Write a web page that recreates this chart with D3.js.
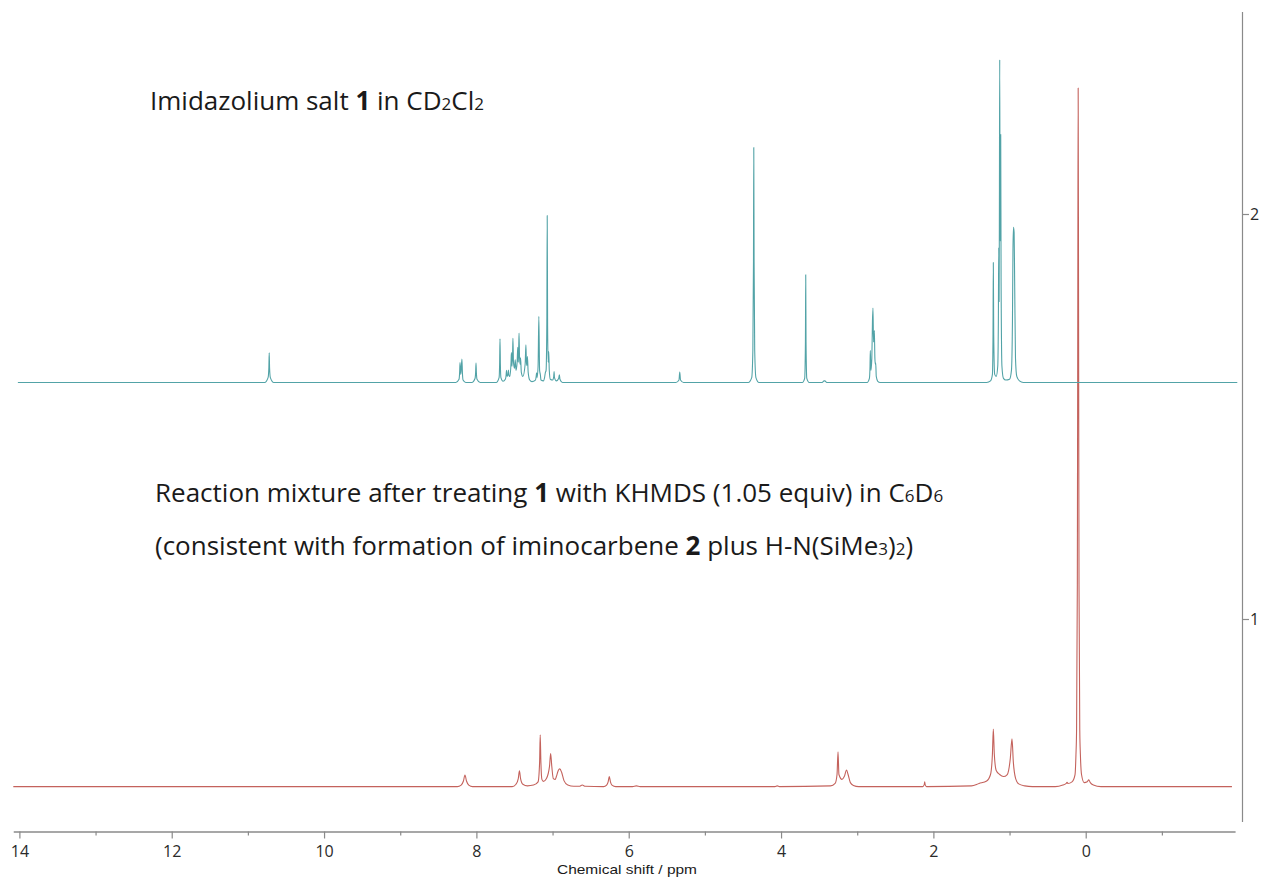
<!DOCTYPE html>
<html>
<head>
<meta charset="utf-8">
<script src="https://cdn.jsdelivr.net/npm/d3@7"></script>
<style>
  html, body { margin: 0; padding: 0; background: #ffffff; }
  svg { display: block; }
  .lbl { font-family: "Open Sans", sans-serif; fill: #1a1a1a; }
</style>
</head>
<body>
<svg id="chart" width="1262" height="877"></svg>
<script>
// ---------- DATA ----------
const xTicksMajor = [14, 12, 10, 8, 6, 4, 2, 0];
const xTicksMinor = [13, 11, 9, 7, 5, 3, 1, -1];
const yTicks = [1, 2];
const xTitle = "Chemical shift / ppm";

// vertical offsets of the two stacked spectra (in axis units)
const tealOffset = 1.584;
const redOffset = 0.586;

// Imidazolium salt 1 in CD2Cl2 : [ppm, intensity]
const tealSpectrum = [
  [14.02, 0],
  [10.78, 0], [10.735, 0.012], [10.725, 0.035], [10.72, 0.073], [10.715, 0.035], [10.705, 0.012], [10.66, 0],
  [8.27, 0], [8.228, 0.008], [8.22, 0.025], [8.215, 0.049], [8.205, 0.02], [8.2, 0.03], [8.19, 0.058], [8.183, 0.022], [8.175, 0.006], [8.14, 0],
  [8.06, 0], [8.018, 0.01], [8.01, 0.025], [8.005, 0.048], [8.0, 0.024], [7.992, 0.008], [7.95, 0],
  [7.74, 0], [7.702, 0.012], [7.695, 0.045], [7.69, 0.108], [7.685, 0.045], [7.678, 0.012],
  [7.65, 0.003], [7.62, 0.008], [7.61, 0.018], [7.605, 0.03], [7.597, 0.015], [7.585, 0.02], [7.58, 0.031], [7.573, 0.018],
  [7.56, 0.015], [7.545, 0.05], [7.54, 0.074], [7.533, 0.04], [7.525, 0.07], [7.52, 0.109], [7.513, 0.05], [7.5, 0.035],
  [7.49, 0.056], [7.48, 0.03], [7.465, 0.05], [7.457, 0.087], [7.45, 0.05], [7.445, 0.08], [7.44, 0.122], [7.433, 0.06],
  [7.425, 0.045], [7.42, 0.061], [7.41, 0.025], [7.39, 0.015], [7.36, 0.045], [7.35, 0.093], [7.343, 0.05], [7.337, 0.042],
  [7.33, 0.064], [7.32, 0.025], [7.3, 0.006], [7.27, 0.002],
  [7.225, 0.006], [7.215, 0.015], [7.21, 0.024], [7.203, 0.012], [7.19, 0.04], [7.18, 0.163], [7.17, 0.03], [7.16, 0.019], [7.152, 0.006], [7.12, 0.004],
  [7.105, 0.012], [7.095, 0.024], [7.085, 0.03], [7.075, 0.15], [7.07, 0.412], [7.065, 0.14], [7.057, 0.05], [7.05, 0.0765], [7.043, 0.03], [7.03, 0.008], [7.0, 0.006],
  [6.985, 0.014], [6.98, 0.027], [6.975, 0.012], [6.95, 0.004], [6.92, 0.01], [6.91, 0.019], [6.903, 0.008], [6.87, 0],
  [5.38, 0], [5.34, 0.006], [5.33, 0.026], [5.32, 0.006], [5.28, 0],
  [4.43, 0], [4.385, 0.012], [4.37, 0.08], [4.362, 0.3], [4.358, 0.58], [4.354, 0.3], [4.346, 0.08], [4.33, 0.012], [4.29, 0],
  [3.72, 0], [3.69, 0.01], [3.68, 0.1], [3.676, 0.266], [3.672, 0.1], [3.662, 0.01], [3.63, 0],
  [3.46, 0], [3.435, 0.004], [3.425, 0.004], [3.40, 0],
  [2.87, 0], [2.84, 0.01], [2.832, 0.04], [2.828, 0.079], [2.82, 0.03], [2.808, 0.06], [2.8, 0.15], [2.793, 0.184], [2.786, 0.1],
  [2.78, 0.11], [2.775, 0.128], [2.768, 0.06], [2.762, 0.045], [2.757, 0.048], [2.75, 0.015], [2.73, 0.003], [2.70, 0],
  [1.30, 0], [1.25, 0.004], [1.225, 0.02], [1.217, 0.12], [1.213, 0.296], [1.208, 0.12], [1.195, 0.02], [1.175, 0.015],
  [1.155, 0.04], [1.147, 0.15], [1.142, 0.333], [1.137, 0.2], [1.133, 0.45], [1.129, 0.797], [1.124, 0.35], [1.12, 0.45],
  [1.116, 0.612], [1.111, 0.25], [1.1, 0.04], [1.08, 0.01], [1.05, 0.006], [1.0, 0.008],
  [0.975, 0.03], [0.962, 0.15], [0.955, 0.33], [0.948, 0.383], [0.94, 0.37], [0.933, 0.25], [0.922, 0.06], [0.905, 0.015], [0.87, 0.004], [0.82, 0],
  [-1.99, 0]
];

// Reaction mixture in C6D6 : [ppm, intensity]
const redSpectrum = [
  [14.08, 0],
  [8.25, 0], [8.2, 0.004], [8.17, 0.014], [8.15, 0.029], [8.13, 0.014], [8.1, 0.004], [8.05, 0],
  [7.53, 0], [7.48, 0.006], [7.45, 0.02], [7.435, 0.039], [7.42, 0.02], [7.39, 0.006], [7.33, 0.002],
  [7.25, 0.004], [7.19, 0.012], [7.17, 0.06], [7.162, 0.128], [7.153, 0.06], [7.14, 0.018], [7.12, 0.013],
  [7.08, 0.02], [7.04, 0.05], [7.025, 0.082], [7.01, 0.05], [6.99, 0.02], [6.965, 0.018],
  [6.95, 0.025], [6.925, 0.04], [6.905, 0.044], [6.88, 0.035], [6.85, 0.015], [6.8, 0.004], [6.72, 0.001],
  [6.65, 0.001], [6.61, 0.004], [6.57, 0.001],
  [6.33, 0], [6.29, 0.004], [6.27, 0.012], [6.255, 0.025], [6.24, 0.012], [6.22, 0.004], [6.17, 0],
  [5.95, 0], [5.9, 0.002], [5.85, 0],
  [4.08, 0], [4.05, 0.002], [4.02, 0],
  [3.35, 0.002], [3.29, 0.008], [3.265, 0.03], [3.252, 0.086], [3.24, 0.03], [3.2, 0.018], [3.17, 0.025], [3.14, 0.041],
  [3.12, 0.03], [3.09, 0.01], [3.05, 0.003], [2.98, 0],
  [2.14, 0], [2.12, 0.005], [2.114, 0.012], [2.108, 0.005], [2.09, 0],
  [1.5, 0.002], [1.4, 0.008], [1.3, 0.014], [1.25, 0.03], [1.225, 0.08], [1.213, 0.142], [1.2, 0.08], [1.175, 0.04],
  [1.13, 0.03], [1.08, 0.025], [1.03, 0.03], [0.99, 0.07], [0.968, 0.118], [0.95, 0.06], [0.92, 0.02], [0.88, 0.007], [0.8, 0.002], [0.7, 0],
  [0.4, 0], [0.3, 0.004], [0.255, 0.008], [0.245, 0.011], [0.235, 0.008], [0.18, 0.012], [0.14, 0.03], [0.128, 0.08],
  [0.12, 0.14], [0.11, 0.5], [0.104, 1.2], [0.099, 1.725], [0.094, 1.2], [0.088, 0.5], [0.078, 0.14], [0.07, 0.08],
  [0.055, 0.03], [0.02, 0.01], [-0.02, 0.012], [-0.04, 0.017], [-0.06, 0.01], [-0.1, 0.004], [-0.2, 0],
  [-1.92, 0]
];

// ---------- CHART ----------
const svg = d3.select("#chart");

const x = d3.scaleLinear().domain([14.08, -1.96]).range([13.3, 1235]);
const y = d3.scaleLinear().domain([0.5, 2.5]).range([821.5, 11.5]);

const axisColor = "#8a8a8a";
const tickTextColor = "#2a2a2a";

// bottom axis (minor then major)
const gMinor = svg.append("g").attr("transform", "translate(0,831.5)")
  .call(d3.axisBottom(x).tickValues(xTicksMinor).tickSize(4).tickSizeOuter(0).tickFormat(""));
const gMajor = svg.append("g").attr("transform", "translate(0,831.5)")
  .call(d3.axisBottom(x).tickValues(xTicksMajor).tickSize(7).tickSizeOuter(0).tickPadding(7).tickFormat(d3.format("d")));
[gMinor, gMajor].forEach(g => {
  g.select(".domain").attr("stroke", axisColor).attr("stroke-width", 1.2);
  g.selectAll(".tick line").attr("stroke", axisColor).attr("stroke-width", 1.2);
  g.selectAll(".tick text").attr("fill", tickTextColor)
    .style("font-family", "'Open Sans', sans-serif").style("font-size", "16px");
});

// right axis
const gRight = svg.append("g").attr("transform", "translate(1242,0)")
  .call(d3.axisRight(y).tickValues(yTicks).tickSize(7).tickSizeOuter(0).tickPadding(1).tickFormat(d3.format("d")));
gRight.select(".domain").attr("stroke", axisColor).attr("stroke-width", 1.2);
gRight.selectAll(".tick line").attr("stroke", axisColor).attr("stroke-width", 1.2);
gRight.selectAll(".tick text").attr("fill", tickTextColor)
  .style("font-family", "'Open Sans', sans-serif").style("font-size", "16px");

// axis title
svg.append("text").attr("x", 627).attr("y", 874).attr("text-anchor", "middle")
  .style("font-family", "'Liberation Sans', Arial, sans-serif").style("font-size", "13.5px")
  .attr("fill", "#1a1a1a")
  .attr("textLength", 140).attr("lengthAdjust", "spacingAndGlyphs")
  .text(xTitle);

// spectra
const lineFor = off => d3.line()
  .x(d => x(d[0]))
  .y(d => y(off + d[1]))
  .curve(d3.curveMonotoneX);

svg.append("path").datum(redSpectrum)
  .attr("d", lineFor(redOffset))
  .attr("fill", "none").attr("stroke", "#c4625c").attr("stroke-width", 1.1)
  .attr("stroke-linejoin", "round");

svg.append("path").datum(tealSpectrum)
  .attr("d", lineFor(tealOffset))
  .attr("fill", "none").attr("stroke", "#52a3a7").attr("stroke-width", 1.1)
  .attr("stroke-linejoin", "round");

// annotations
function addLabel(xp, yp, size, parts) {
  const t = svg.append("text").attr("class", "lbl").attr("x", xp).attr("y", yp)
    .style("font-size", size + "px");
  parts.forEach(p => {
    const s = t.append("tspan").text(p.t);
    if (p.b) s.style("font-weight", "700");
    if (p.sub) s.style("font-size", Math.round(size * 0.66) + "px");
  });
  return t;
}

addLabel(150, 110, 26, [
  {t: "Imidazolium salt "}, {t: "1", b: true}, {t: " in CD"}, {t: "2", sub: true}, {t: "Cl"}, {t: "2", sub: true}
]);
addLabel(155, 502, 26, [
  {t: "Reaction mixture after treating "}, {t: "1", b: true}, {t: " with KHMDS (1.05 equiv) in C"},
  {t: "6", sub: true}, {t: "D"}, {t: "6", sub: true}
]);
addLabel(155, 555, 26, [
  {t: "(consistent with formation of iminocarbene "}, {t: "2", b: true}, {t: " plus H-N(SiMe"},
  {t: "3", sub: true}, {t: ")"}, {t: "2", sub: true}, {t: ")"}
]);
</script>
</body>
</html>
